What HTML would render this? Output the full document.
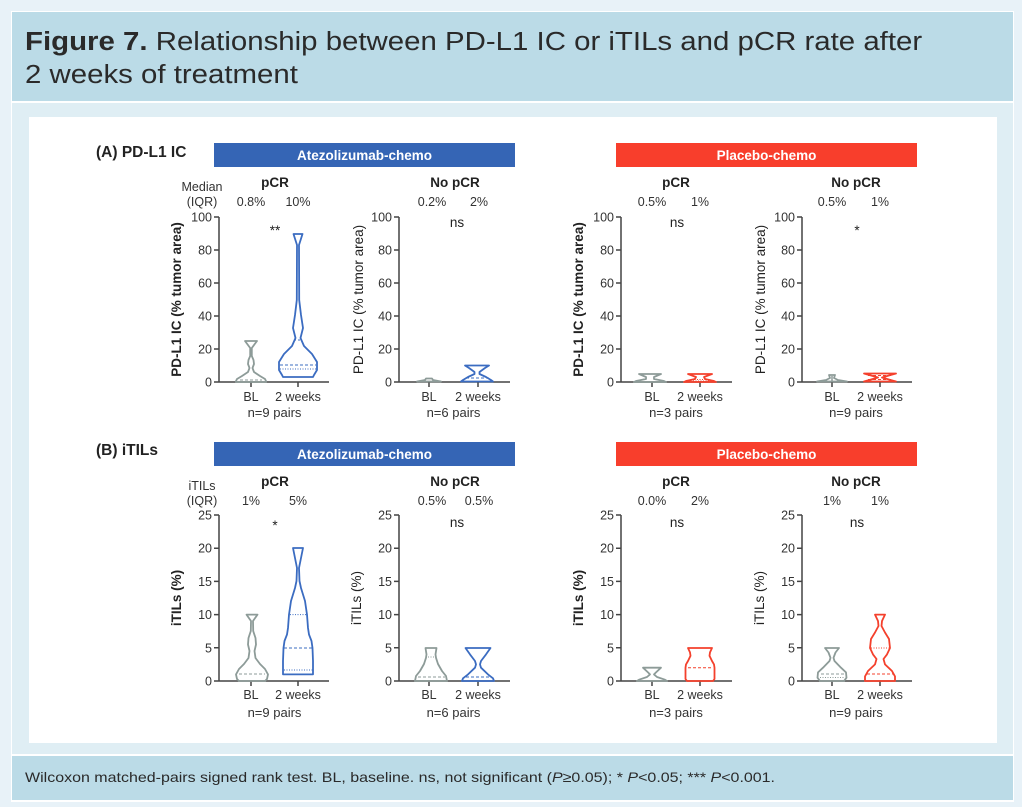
<!DOCTYPE html>
<html><head><meta charset="utf-8">
<style>
html,body{margin:0;padding:0;}
body{width:1022px;height:807px;background:#e8f2f8;position:relative;overflow:hidden;font-family:"Liberation Sans",Arial,sans-serif;}
.box{position:absolute;}
</style></head>
<body>
<div class="box" style="left:11px;top:11px;width:1003px;height:791px;background:#fff;"></div>
<div class="box" style="left:12px;top:12px;width:1001px;height:89px;background:#bbdbe7;"></div>
<div class="box" style="left:12px;top:103px;width:1001px;height:651px;background:#dfeef4;"></div>
<div class="box" style="left:29px;top:117px;width:968px;height:626px;background:#fff;"></div>
<div class="box" style="left:12px;top:756px;width:1001px;height:44px;background:#bbdbe7;"></div>
<div class="box" style="left:25px;top:26px;font-size:25.5px;line-height:33px;color:#2a2a2a;white-space:nowrap;transform:scaleX(1.153);transform-origin:0 0;"><b>Figure 7.</b> Relationship between PD-L1 IC or iTILs and pCR rate after<br>2 weeks of treatment</div>
<div class="box" style="left:25px;top:769px;font-size:14px;line-height:17px;color:#2a2a2a;white-space:nowrap;transform:scaleX(1.142);transform-origin:0 0;">Wilcoxon matched-pairs signed rank test. BL, baseline. ns, not significant (<i>P</i>≥0.05); * <i>P</i>&lt;0.05; *** <i>P</i>&lt;0.001.</div>

<svg class="box" style="left:0;top:0" width="1022" height="807" viewBox="0 0 1022 807" xmlns="http://www.w3.org/2000/svg" font-family="Liberation Sans, Arial, sans-serif">
<!-- Section labels -->
<text x="96" y="157" font-size="15.5" font-weight="bold" fill="#222">(A) PD-L1 IC</text>
<text x="96" y="455" font-size="15.5" font-weight="bold" fill="#222">(B) iTILs</text>
<!-- Banners -->
<rect x="214" y="143" width="301" height="24" fill="#3565b5"/>
<rect x="616" y="143" width="301" height="24" fill="#f83e2c"/>
<rect x="214" y="442" width="301" height="24" fill="#3565b5"/>
<rect x="616" y="442" width="301" height="24" fill="#f83e2c"/>
<g font-size="13.5" font-weight="bold" fill="#fff" text-anchor="middle">
<text x="364.5" y="160">Atezolizumab-chemo</text>
<text x="766.5" y="160">Placebo-chemo</text>
<text x="364.5" y="459">Atezolizumab-chemo</text>
<text x="766.5" y="459">Placebo-chemo</text>
</g>

<!-- Top text rows -->
<g font-size="12.5" fill="#333" text-anchor="middle">
<text x="202" y="191">Median</text><text x="202" y="206">(IQR)</text>
<text x="202" y="490">iTILs</text><text x="202" y="505">(IQR)</text>
<text x="251" y="206">0.8%</text><text x="298" y="206">10%</text>
<text x="432" y="206">0.2%</text><text x="479" y="206">2%</text>
<text x="652" y="206">0.5%</text><text x="700" y="206">1%</text>
<text x="832" y="206">0.5%</text><text x="880" y="206">1%</text>
<text x="251" y="505">1%</text><text x="298" y="505">5%</text>
<text x="432" y="505">0.5%</text><text x="479" y="505">0.5%</text>
<text x="652" y="505">0.0%</text><text x="700" y="505">2%</text>
<text x="832" y="505">1%</text><text x="880" y="505">1%</text>
</g>
<g font-size="13.5" font-weight="bold" fill="#222" text-anchor="middle">
<text x="275" y="187">pCR</text><text x="455" y="187">No pCR</text>
<text x="676" y="187">pCR</text><text x="856" y="187">No pCR</text>
<text x="275" y="486">pCR</text><text x="455" y="486">No pCR</text>
<text x="676" y="486">pCR</text><text x="856" y="486">No pCR</text>
</g>
<g font-size="13.5" fill="#222" text-anchor="middle">
<text x="275" y="235">**</text><text x="457" y="227">ns</text>
<text x="677" y="227">ns</text><text x="857" y="235">*</text>
<text x="275" y="530">*</text><text x="457" y="527">ns</text>
<text x="677" y="527">ns</text><text x="857" y="527">ns</text>
</g>

<!-- Axes -->
<g stroke="#444" stroke-width="1.5" fill="none">
<path d="M219,217V382H329 M214,217H219 M214,250H219 M214,283H219 M214,316H219 M214,349H219 M214,382H219 M251,382V387 M298,382V387"/>
<path d="M399,217V382H510 M394,217H399 M394,250H399 M394,283H399 M394,316H399 M394,349H399 M394,382H399 M429,382V387 M478,382V387"/>
<path d="M621,217V382H732 M616,217H621 M616,250H621 M616,283H621 M616,316H621 M616,349H621 M616,382H621 M652,382V387 M700,382V387"/>
<path d="M802,217V382H912 M797,217H802 M797,250H802 M797,283H802 M797,316H802 M797,349H802 M797,382H802 M832,382V387 M880,382V387"/>
<path d="M219,515V681H329 M214,515H219 M214,548.2H219 M214,581.4H219 M214,614.6H219 M214,647.8H219 M214,681H219 M251,681V686 M298,681V686"/>
<path d="M399,515V681H510 M394,515H399 M394,548.2H399 M394,581.4H399 M394,614.6H399 M394,647.8H399 M394,681H399 M429,681V686 M478,681V686"/>
<path d="M621,515V681H732 M616,515H621 M616,548.2H621 M616,581.4H621 M616,614.6H621 M616,647.8H621 M616,681H621 M652,681V686 M700,681V686"/>
<path d="M802,515V681H912 M797,515H802 M797,548.2H802 M797,581.4H802 M797,614.6H802 M797,647.8H802 M797,681H802 M832,681V686 M880,681V686"/>
</g>

<!-- Tick labels -->
<g font-size="12.5" fill="#333" text-anchor="end">
<text x="212" y="221.5">100</text><text x="212" y="254.5">80</text><text x="212" y="287.5">60</text><text x="212" y="320.5">40</text><text x="212" y="353.5">20</text><text x="212" y="386.5">0</text>
<text x="392" y="221.5">100</text><text x="392" y="254.5">80</text><text x="392" y="287.5">60</text><text x="392" y="320.5">40</text><text x="392" y="353.5">20</text><text x="392" y="386.5">0</text>
<text x="614" y="221.5">100</text><text x="614" y="254.5">80</text><text x="614" y="287.5">60</text><text x="614" y="320.5">40</text><text x="614" y="353.5">20</text><text x="614" y="386.5">0</text>
<text x="795" y="221.5">100</text><text x="795" y="254.5">80</text><text x="795" y="287.5">60</text><text x="795" y="320.5">40</text><text x="795" y="353.5">20</text><text x="795" y="386.5">0</text>
<text x="212" y="519.5">25</text><text x="212" y="552.7">20</text><text x="212" y="585.9">15</text><text x="212" y="619.1">10</text><text x="212" y="652.3">5</text><text x="212" y="685.5">0</text>
<text x="392" y="519.5">25</text><text x="392" y="552.7">20</text><text x="392" y="585.9">15</text><text x="392" y="619.1">10</text><text x="392" y="652.3">5</text><text x="392" y="685.5">0</text>
<text x="614" y="519.5">25</text><text x="614" y="552.7">20</text><text x="614" y="585.9">15</text><text x="614" y="619.1">10</text><text x="614" y="652.3">5</text><text x="614" y="685.5">0</text>
<text x="795" y="519.5">25</text><text x="795" y="552.7">20</text><text x="795" y="585.9">15</text><text x="795" y="619.1">10</text><text x="795" y="652.3">5</text><text x="795" y="685.5">0</text>
</g>

<!-- X labels -->
<g font-size="12.5" fill="#333" text-anchor="middle">
<text x="251" y="401">BL</text><text x="298" y="401">2 weeks</text>
<text x="429" y="401">BL</text><text x="478" y="401">2 weeks</text>
<text x="652" y="401">BL</text><text x="700" y="401">2 weeks</text>
<text x="832" y="401">BL</text><text x="880" y="401">2 weeks</text>
<text x="251" y="699">BL</text><text x="298" y="699">2 weeks</text>
<text x="429" y="699">BL</text><text x="478" y="699">2 weeks</text>
<text x="652" y="699">BL</text><text x="700" y="699">2 weeks</text>
<text x="832" y="699">BL</text><text x="880" y="699">2 weeks</text>
</g>
<g font-size="13" fill="#333" text-anchor="middle">
<text x="274.5" y="417">n=9 pairs</text><text x="453.5" y="417">n=6 pairs</text>
<text x="676" y="417">n=3 pairs</text><text x="856" y="417">n=9 pairs</text>
<text x="274.5" y="717">n=9 pairs</text><text x="453.5" y="717">n=6 pairs</text>
<text x="676" y="717">n=3 pairs</text><text x="856" y="717">n=9 pairs</text>
</g>

<!-- Y axis labels -->
<g font-size="13.5" fill="#222" text-anchor="middle">
<text transform="translate(181,299.5) rotate(-90)" font-weight="bold">PD-L1 IC (% tumor area)</text>
<text transform="translate(363,299.5) rotate(-90)">PD-L1 IC (% tumor area)</text>
<text transform="translate(583,299.5) rotate(-90)" font-weight="bold">PD-L1 IC (% tumor area)</text>
<text transform="translate(765,299.5) rotate(-90)">PD-L1 IC (% tumor area)</text>
<text transform="translate(181,598) rotate(-90)" font-weight="bold">iTILs (%)</text>
<text transform="translate(361,598) rotate(-90)">iTILs (%)</text>
<text transform="translate(583,598) rotate(-90)" font-weight="bold">iTILs (%)</text>
<text transform="translate(764,598) rotate(-90)">iTILs (%)</text>
</g>

<!-- Violins: gray -->
<g fill="none" stroke="#8d9b98" stroke-width="1.8" stroke-linejoin="round">
<polygon points="245,341 250.2,348 250.2,356 248.5,360 248,364 249.5,368 248,372 242,376 237,379 236,381 236,382 266,382 266,381 265,379 260,376 254,372 252.5,368 254,364 253.5,360 251.8,356 251.8,348 257,341"/>
<polygon points="426,378.5 425,380 417,381.5 441,381.5 433,380 432,378.5"/>
<polygon points="639,374 646,377 646,379 636,381 634,382 666,382 664,381 654,379 654,377 661,374"/>
<polygon points="829,375 830,378 826,380 817,381.5 847,381.5 838,380 834,378 835,375"/>
<polygon points="246.5,614.6 251,621 250.8,631 248.5,638 248,644.5 249.5,651 248.5,658 244,664 239,669 236,674.4 237,679 239,681 265,681 267,679 268,674.4 265,669 260,664 255.5,658 254.5,651 256,644.5 255.5,638 253.2,631 253,621 257.5,614.6"/>
<polygon points="425.5,648 426.5,654.4 426,657.8 424,664 420,671 416,676 415,681 447,681 446,676 442,671 438,664 436,657.8 435.5,654.4 436.5,648"/>
<polygon points="643,667.7 648,672.4 650,674.4 647,677 639,679.7 637,681 667,681 665,679.7 657,677 654,674.4 656,672.4 661,667.7"/>
<polygon points="825,648 828.5,652.5 830.5,657.8 829.5,661 823,667.7 818,672.4 817.5,677.7 820,681 844,681 846.5,677.7 846,672.4 841,667.7 834.5,661 833.5,657.8 835.5,652.5 839,648"/>
</g>
<g fill="none" stroke="#8d9b98" stroke-width="1">
<path d="M240,380H262" stroke-dasharray="3,2"/>
<path d="M832,376V381" stroke-width="1.5"/>
<path d="M239,674H265" stroke-dasharray="3,2"/>
<path d="M428,657H435" stroke-dasharray="1,1.5"/>
<path d="M418,677H445" stroke-dasharray="3,2"/>
<path d="M821,674H844" stroke-dasharray="3,2"/>
<path d="M820,677.5H845" stroke-dasharray="1,1.5"/>
</g>

<!-- Violins: blue -->
<g fill="none" stroke="#3b6cc1" stroke-width="1.8" stroke-linejoin="round">
<polygon points="293.5,234 297,245 296.8,300 295,315 293,328 295.5,338 292,346 284,354 279,362 279,370 282,375 283,377 313,377 314,375 317,370 317,362 312,354 304,346 300.5,338 303,328 301,315 299.2,300 299,245 302.5,234"/>
<polygon points="465,365.5 469,368 474.5,372 474.5,374 468,377 463,380 461,381.5 493,381.5 491,380 486,377 479.5,374 479.5,372 485,368 489,365.5"/>
<polygon points="293,548 295,558 297,568 296.5,581 295,588 291,601 289,614.6 288,628 287,634.5 284.5,641 283.5,648 283,661 283,674.4 313,674.4 313,661 312.5,648 311.5,641 309,634.5 308,628 307,614.6 305,601 301,588 299.5,581 299,568 301,558 303,548"/>
<polygon points="465.5,648 470,654.4 475,661 476,664.4 475,667.7 468,674.4 463,678.3 462,681 494,681 493,678.3 488,674.4 481,667.7 480,664.4 481,661 486,654.4 490.5,648"/>
</g>
<g fill="none" stroke="#3b6cc1" stroke-width="1">
<path d="M294,340H302" stroke-dasharray="2,2"/>
<path d="M280,365H316" stroke-dasharray="3,2"/>
<path d="M280,369H316" stroke-dasharray="1,1.5"/>
<path d="M466,378H489" stroke-dasharray="3,2"/>
<path d="M290,614.6H307" stroke-dasharray="1,1.5"/>
<path d="M284,648H313" stroke-dasharray="3,2"/>
<path d="M284,670H313" stroke-dasharray="1,1.5"/>
<path d="M466,677H491" stroke-dasharray="3,2"/>
</g>

<!-- Violins: red -->
<g fill="none" stroke="#f4402c" stroke-width="1.8" stroke-linejoin="round">
<polygon points="688,374 696,377 695,379 686,381 684,382 716,382 714,381 705,379 704,377 712,374"/>
<polygon points="864,373.5 878,377.5 864,381.5 896,381.5 882,377.5 896,373.5"/>
<polygon points="688,648 690,652.4 690.5,655.8 688,661 686,664.4 685.5,667.7 685.5,679 687,681 713,681 714.5,679 714.5,667.7 714,664.4 712,661 709.5,655.8 710,652.4 712,648"/>
<polygon points="875,614.6 878,621 878.5,626 875,632.5 871,639 870,648 873,654.4 876.5,659 875,664.4 868,671 865,676.4 865,681 895,681 895,676.4 892,671 885,664.4 883.5,659 887,654.4 890,648 889,639 885,632.5 881.5,626 882,621 885,614.6"/>
</g>
<g fill="none" stroke="#f4402c" stroke-width="1">
<path d="M692,379.5H708" stroke-dasharray="1,1.5"/>
<path d="M688,381H712" stroke-dasharray="1,1.5"/>
<path d="M868,375.5H892" stroke-dasharray="3,2"/>
<path d="M868,379.5H892" stroke-dasharray="3,2"/>
<path d="M688,667.7H712" stroke-dasharray="3,2"/>
<path d="M871,648H889" stroke-dasharray="1,1.5"/>
<path d="M867,674H893" stroke-dasharray="3,2"/>
</g>
</svg>
</body></html>
